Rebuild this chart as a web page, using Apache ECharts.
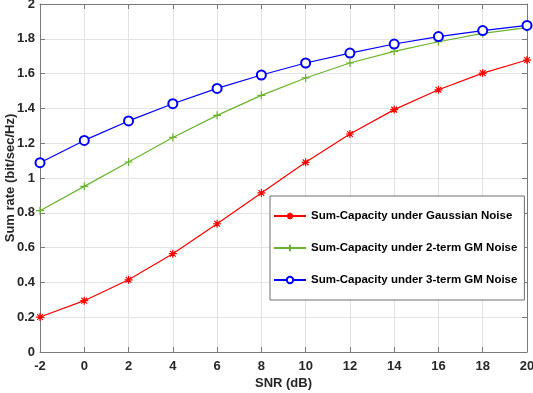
<!DOCTYPE html>
<html>
<head>
<meta charset="utf-8">
<script src="https://cdn.jsdelivr.net/npm/echarts@6/dist/echarts.min.js"></script>
<style>
html,body{margin:0;padding:0;background:#fff;}
#chart{width:533px;height:393px;}
</style>
</head>
<body>
<div id="chart"></div>
<script>
//横轴 SNR
var snr = [-2, 0, 2, 4, 6, 8, 10, 12, 14, 16, 18, 20];
//各曲线数值
var gaussian = [0.201, 0.295, 0.415, 0.565, 0.737, 0.914, 1.090, 1.253, 1.393, 1.507, 1.603, 1.678];
var gm2 = [0.812, 0.952, 1.092, 1.233, 1.360, 1.475, 1.575, 1.661, 1.728, 1.783, 1.831, 1.864];
var gm3 = [1.088, 1.216, 1.328, 1.427, 1.515, 1.592, 1.661, 1.718, 1.770, 1.813, 1.847, 1.877];
var names = ['Sum-Capacity under Gaussian Noise', 'Sum-Capacity under 2-term GM Noise', 'Sum-Capacity under 3-term GM Noise'];

function pairs(arr){
	var out = [];
	for (var i = 0; i < snr.length; i++) {
		out.push([snr[i], arr[i]]);
	}
	return out;
}

var FONT = 'Liberation Sans, Arial, sans-serif';
var star = 'path://M0,-5L0,5M-5,0L5,0M-3.6,-3.6L3.6,3.6M-3.6,3.6L3.6,-3.6';
var plus = 'path://M0,-5L0,5M-5,0L5,0';

var myChart = echarts.init(document.getElementById('chart'));
var axisLine = { show: true, onZero: false, lineStyle: { color: '#7a7a7a', width: 1 } };
var tick = { show: true, inside: true, length: 5, lineStyle: { color: '#7a7a7a' } };
var labelStyle = { fontFamily: FONT, fontWeight: 'bold', fontSize: 13, color: '#262626' };
var option = {
	animation: false,
	backgroundColor: '#fff',
	grid: { left: 40, right: 6, top: 4, bottom: 41, containLabel: false, outerBoundsMode: 'none' },
	xAxis: [{
		type: 'value', min: -2, max: 20, interval: 2,
		name: 'SNR (dB)', nameLocation: 'middle', nameGap: 25, nameMoveOverlap: false,
		nameTextStyle: labelStyle,
		axisLine: axisLine, axisTick: tick,
		axisLabel: Object.assign({ margin: 8 }, labelStyle),
		splitLine: { show: true, lineStyle: { color: '#e3e3e3', width: 1 } }
	}, {
		type: 'value', min: -2, max: 20, interval: 2, position: 'top',
		axisLine: axisLine, axisTick: tick,
		axisLabel: { show: false }, splitLine: { show: false }
	}],
	yAxis: [{
		type: 'value', min: 0, max: 2, interval: 0.2,
		name: 'Sum rate (bit/sec/Hz)', nameLocation: 'middle', nameGap: 23, nameMoveOverlap: false,
		nameTextStyle: labelStyle,
		axisLine: axisLine, axisTick: tick,
		axisLabel: Object.assign({ margin: 5,
			formatter: function (v) { return String(Math.round(v * 10) / 10); } }, labelStyle),
		splitLine: { show: true, lineStyle: { color: '#e3e3e3', width: 1 } }
	}, {
		type: 'value', min: 0, max: 2, interval: 0.2, position: 'right',
		axisLine: axisLine, axisTick: tick,
		axisLabel: { show: false }, splitLine: { show: false }
	}],
	legend: {
		orient: 'vertical', left: 270, top: 196,
		padding: [14, 7, 14, 3], itemGap: 20, itemWidth: 32, itemHeight: 8,
		backgroundColor: '#fff', borderColor: '#6e6e6e', borderWidth: 1,
		textStyle: { fontFamily: FONT, fontWeight: 'bold', fontSize: 11.5, color: '#000' },
		data: names
	},
	series: [
		{
			name: names[0], type: 'line', data: pairs(gaussian),
			symbol: star, symbolSize: 8, showAllSymbol: true,
			lineStyle: { color: '#ff0000', width: 1.2 },
			itemStyle: { color: '#ff0000', borderColor: '#ff0000', borderWidth: 1.2 }
		},
		{
			name: names[1], type: 'line', data: pairs(gm2),
			symbol: plus, symbolSize: 8, showAllSymbol: true,
			lineStyle: { color: '#6ab42d', width: 1.2 },
			itemStyle: { color: '#6ab42d', borderColor: '#6ab42d', borderWidth: 1.2 }
		},
		{
			name: names[2], type: 'line', data: pairs(gm3),
			symbol: 'emptyCircle', symbolSize: 9, showAllSymbol: true,
			lineStyle: { color: '#0000ff', width: 1.2 },
			itemStyle: { color: '#0000ff', borderColor: '#0000ff', borderWidth: 1.5 }
		}
	]
};
myChart.setOption(option);
</script>
</body>
</html>
